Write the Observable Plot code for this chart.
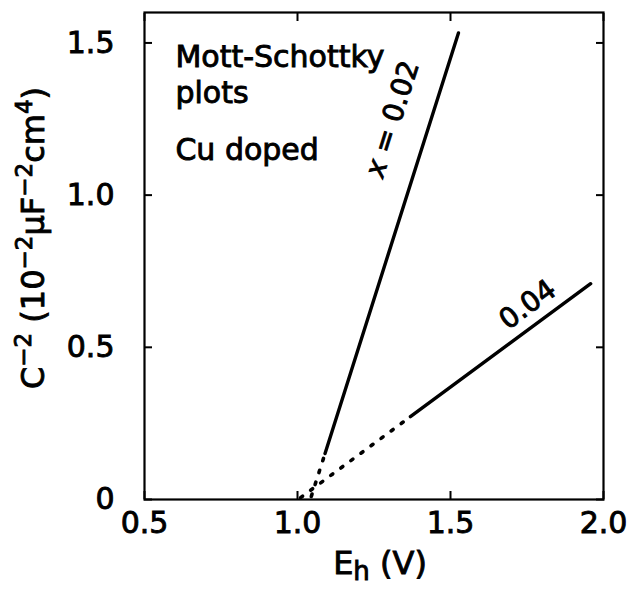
<!DOCTYPE html>
<html><head><meta charset="utf-8">
<script src="https://cdn.jsdelivr.net/npm/d3@7"></script>
<script src="https://cdn.jsdelivr.net/npm/@observablehq/plot@0.6"></script>
<style>body{margin:0;background:#fff} svg text{stroke:black;stroke-width:0.9px}</style>
</head><body><div id="chart"></div>
<script>
// ---- data ----
const xTicks = [0.5, 1.0, 1.5, 2.0];
const yTicks = [0, 0.5, 1.0, 1.5];
const seriesNames = ["x = 0.02", "0.04"];
const solidE  = [[1.09, 1.526], [1.369, 1.958]];
const solidC  = [[0.151, 1.533], [0.272, 0.709]];
const dottedE = [[1.045, 1.09], [1.01, 1.369]];
const dottedC = [[0.01, 0.151], [0.006, 0.272]];
const noteLines = ["Mott-Schottky", "plots", "Cu doped"];

// annotation placement
const labelE = [1.31, 1.752];
const labelC = [1.25, 0.64];
const labelAngle = [-72.5, -36.5];
const noteE = 0.601;
const noteC = [1.454, 1.335, 1.148];

const solidRows = [], dottedRows = [];
seriesNames.forEach((s, i) => {
  solidE[i].forEach((e, j) => solidRows.push({series: s, E: e, C: solidC[i][j]}));
  dottedE[i].forEach((e, j) => dottedRows.push({series: s, E: e, C: dottedC[i][j]}));
});
const labelRows = seriesNames.map((s, i) => ({text: s, E: labelE[i], C: labelC[i], a: labelAngle[i]}));
const noteRows = noteLines.map((t, i) => ({text: t, E: noteE, C: noteC[i]}));

const fmt = d => d === 0 ? "0" : d.toFixed(1);

const chart = Plot.plot({
  width: 632, height: 590,
  marginLeft: 144, marginRight: 29, marginTop: 12, marginBottom: 91,
  style: {fontFamily: "DejaVu Sans", fontSize: "30px", color: "black", background: "white"},
  x: {domain: [0.5, 2.0]},
  y: {domain: [0, 1.6]},
  marks: [
    Plot.axisX(xTicks, {anchor: "bottom", tickSize: -8, tickPadding: 20, tickFormat: fmt, label: null, strokeWidth: 2}),
    Plot.axisX(xTicks, {anchor: "top", tickSize: -8, tickFormat: () => "", label: null, strokeWidth: 2}),
    Plot.axisY(yTicks, {anchor: "left", tickSize: -8, tickPadding: 38, tickFormat: fmt, label: null, strokeWidth: 2}),
    Plot.axisY(yTicks, {anchor: "right", tickSize: -8, tickFormat: () => "", label: null, strokeWidth: 2}),
    Plot.frame({stroke: "black", strokeWidth: 2.2}),
    Plot.line(dottedRows, {x: "E", y: "C", z: "series", stroke: "black", strokeWidth: 3.6, strokeDasharray: "2.5,10", strokeLinecap: "round"}),
    Plot.line(solidRows, {x: "E", y: "C", z: "series", stroke: "black", strokeWidth: 3.4, strokeLinecap: "round"}),
    Plot.text(labelRows, {x: "E", y: "C", text: "text", rotate: "a", fontSize: 28, fill: "black"}),
    Plot.text(noteRows, {x: "E", y: "C", text: "text", textAnchor: "start", fontSize: 30, fill: "black"})
  ]
});

document.getElementById("chart").appendChild(chart);

const svg = d3.select(chart);
// italic "x" in the series label
svg.selectAll("text").filter(function() { return this.textContent === "x = 0.02"; })
  .each(function() {
    const t = d3.select(this);
    t.text(null);
    t.append("tspan").attr("font-style", "italic").text("x");
    t.append("tspan").text(" = 0.02");
  });
// y-axis label with superscripts
const yl = svg.append("text")
  .attr("transform", "translate(44,238) rotate(-90)")
  .attr("text-anchor", "middle")
  .attr("font-family", "DejaVu Sans")
  .attr("font-size", 32)
  .attr("fill", "black");
const parts = [["C", 0], ["\u22122", 1], [" (10", 0], ["\u22122", 1], ["\u03bcF", 0], ["\u22122", 1], ["cm", 0], ["4", 1], [")", 0]];
let prevSup = 0;
parts.forEach(([t, sup]) => {
  const ts = yl.append("tspan").text(t);
  if (sup !== prevSup) ts.attr("dy", sup ? "-0.55em" : "0.4em");
  if (sup) ts.attr("font-size", 23);
  prevSup = sup;
});
// x-axis label with subscript
const xl = svg.append("text")
  .attr("x", 380).attr("y", 574)
  .attr("text-anchor", "middle")
  .attr("font-family", "DejaVu Sans")
  .attr("font-size", 32)
  .attr("fill", "black");
xl.append("tspan").text("E");
xl.append("tspan").text("h").attr("font-size", 26).attr("dy", "0.22em");
xl.append("tspan").text(" (V)").attr("dy", "-0.18em");
</script></body></html>
